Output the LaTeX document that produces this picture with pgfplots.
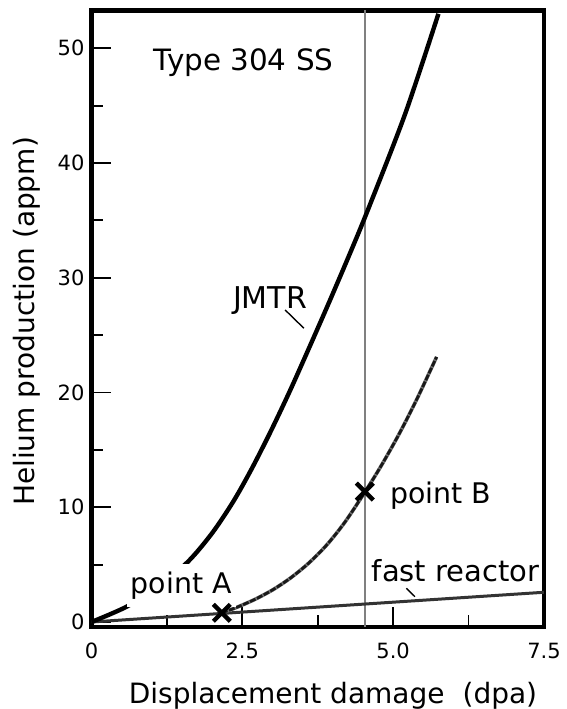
\documentclass[border=0pt]{standalone}
\usepackage{pgfplots}
\pgfplotsset{compat=1.18}
\usepackage{fontspec}
\setmainfont{DejaVu Sans}

\pgfplotstableread{
x y
0 0
0.58 1.33
1.1 3.05
1.6 5.26
2.0 7.75
2.35 10.5
2.65 13.3
2.96 16.5
3.25 19.7
3.49 22.5
3.9 27.4
4.25 31.7
4.58 35.9
5.2 44.3
5.75 53.0
}\jmtr

\pgfplotstableread{
x y
2.16 0.8
2.4 1.26
2.7 1.95
3.0 2.79
3.3 3.84
3.6 5.13
3.9 6.72
4.2 8.70
4.53 11.31
4.8 13.6
5.1 16.4
5.4 19.5
5.72 23.1
}\curveB

\begin{document}
\begin{tikzpicture}
\useasboundingbox (0,0) rectangle (283.5pt,354.5pt);
\begin{axis}[
  at={(45.75pt,41pt)}, anchor=south west,
  scale only axis, width=226.25pt, height=308.25pt,
  xmin=0, xmax=7.5, ymin=-0.436, ymax=53.29,
  axis line style={line width=2.2pt},
  xtick={0,2.5,5,7.5}, xticklabels={0,2.5,5.0,7.5},
  ytick={0,10,20,30,40,50},
  minor x tick num=1, minor y tick num=1,
  tick align=inside, xtick pos=bottom, ytick pos=left,
  major tick length=10pt, minor tick length=6pt,
  tick style={line width=0.9pt, black},
  /pgf/number format/assume math mode=true,
  tick label style={font=\fontsize{10.5}{12}\selectfont},
  xticklabel style={yshift=-4.5pt},
  xlabel={Displacement damage\hspace{9pt}(dpa)},
  ylabel={Helium production (appm)},
  label style={font=\fontsize{14}{16}\selectfont},
  xlabel style={at={(axis description cs:0.5337,-0.1249)}, anchor=base},
  ylabel style={at={(axis description cs:-0.1249,0.4955)}, anchor=base},
]
% vertical reference line
\addplot[black!50, line width=1pt] coordinates {(4.54,-1) (4.54,60)};
% fast reactor
\addplot[black!80, line width=1.5pt] coordinates {(0,0) (7.5,2.59)};
% curve through point B
\addplot[black!55, line width=1.8pt, smooth, tension=0.5] table {\curveB};
\addplot[black!90, line width=1.4pt, dash pattern=on 3pt off 0.8pt, smooth, tension=0.5] table {\curveB};
% JMTR
\addplot[black, line width=2.2pt, smooth, tension=0.5] table {\jmtr};
% leader lines
\addplot[black, line width=0.7pt] coordinates {(3.21,27.19) (3.52,25.6)};
\addplot[black, line width=0.7pt] coordinates {(5.22,2.94) (5.36,2.21)};
% labels
\node[anchor=base, font=\fontsize{14.7}{17}\selectfont, inner sep=0pt] at (axis cs:2.52,48.05) {Type 304 SS};
\node[anchor=base, font=\fontsize{15}{17}\selectfont, inner sep=0pt] at (axis cs:2.96,27.34) {JMTR};
\node[anchor=base west, font=\fontsize{14.2}{17}\selectfont, fill=white, inner xsep=2pt, inner ysep=4pt] at (axis cs:0.58,2.5) {point A};
\node[anchor=base west, font=\fontsize{14.2}{17}\selectfont, inner sep=0pt] at (axis cs:4.95,10.35) {point B};
\node[anchor=base west, font=\fontsize{14.5}{17}\selectfont, inner sep=0pt] at (axis cs:4.64,3.51) {fast reactor};
% points A and B
\addplot[only marks, mark=x, mark size=6pt, mark options={line width=2.2pt, black}] coordinates {(2.16,0.8) (4.53,11.36)};
\end{axis}
\end{tikzpicture}
\end{document}
